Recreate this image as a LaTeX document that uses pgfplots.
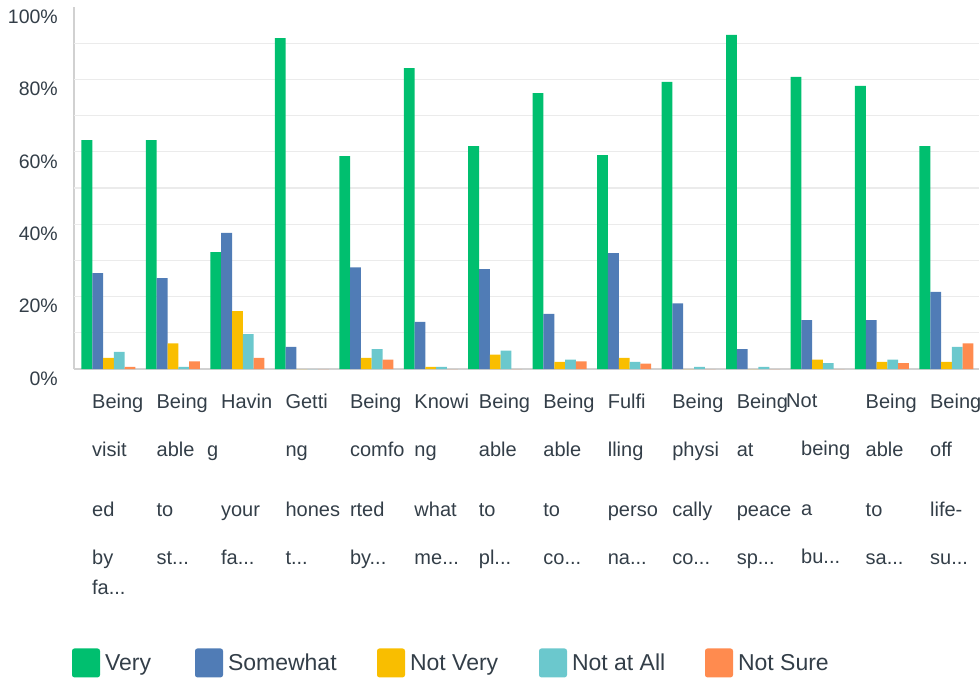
\documentclass[border=0pt]{standalone}
\usepackage{fontspec}
\setmainfont{Liberation Sans}
\usepackage{pgfplots}
\pgfplotsset{compat=1.18}
\definecolor{cVery}{HTML}{00BF6F}
\definecolor{cSome}{HTML}{507CB6}
\definecolor{cNotV}{HTML}{F9BE00}
\definecolor{cNotA}{HTML}{6BC8CD}
\definecolor{cSure}{HTML}{FF8B4F}
\definecolor{txt}{HTML}{333E48}
\newcommand{\dd}{.{}.{}.}
\newcommand{\lbl}[4]{#1\\[18pt]#2\\[29.4pt]#3\\[18pt]#4}
\pgfplotsset{mylegend/.style={legend image code/.code={\path (0pt,0pt) (33pt,0pt); \fill[##1, rounded corners=2.5pt] (0pt,-14.5pt) rectangle (28pt,14.5pt);}}}
\begin{document}
\begin{tikzpicture}
\begin{axis}[
  name=ax,
  scale only axis, width=905pt, height=362pt,
  xmin=-0.535, xmax=13.505, ymin=0, ymax=100,
  ybar=0pt, bar width=10.8pt,
  axis lines*=left,
  axis line style={draw=black!18, line width=1.6pt},
  major tick length=0pt,
  xtick={0,1,2,3,4,5,6,7,8,9,10,11,12,13},
  xticklabels={
    {\lbl{Being}{visit}{ed}{by}\\fa\dd},
    {\lbl{Being}{able}{to}{st\dd}},
    {\lbl{Havin}{\hspace*{-14pt}g}{your}{fa\dd}},
    {\lbl{Getti}{ng}{hones}{t\dd}},
    {\lbl{Being}{comfo}{rted}{by\dd}},
    {\lbl{Knowi}{ng}{what}{me\dd}},
    {\lbl{Being}{able}{to}{pl\dd}},
    {\lbl{Being}{able}{to}{co\dd}},
    {\lbl{Fulfi}{lling}{perso}{na\dd}},
    {\lbl{Being}{physi}{cally}{co\dd}},
    {\lbl{Being}{at}{peace}{sp\dd}},
    {\lbl{\hspace*{-15pt}Not}{being}{a}{bu\dd}},
    {\lbl{Being}{able}{to}{sa\dd}},
    {\lbl{Being}{off}{life-}{su\dd}}},
  xticklabel style={anchor=north west, align=left, inner sep=0pt, xshift=-16.5pt, yshift=-25pt, font=\fontsize{20}{30}\selectfont, text=txt},
  ytick={0,20,40,60,80,100},
  yticklabels={0\%,20\%,40\%,60\%,80\%,100\%},
  yticklabel style={anchor=east, inner sep=0pt, xshift=-16pt, yshift=-9.5pt, font=\fontsize{19.5}{20}\selectfont, text=txt},
  extra y ticks={10,20,30,40,50,60,70,80,90},
  extra y tick labels={},
  extra y tick style={grid=major},
  major grid style={draw=black!8, line width=1.2pt},
  legend style={at={(axis description cs:-0.0022,-0.812)}, anchor=west, draw=none, fill=none, inner sep=0pt, outer sep=0pt, legend columns=-1, font=\fontsize{23}{24}\selectfont, text=txt, nodes={inner sep=0pt}, /tikz/column sep=0pt},
]
\addplot[fill=cVery, draw=none, mylegend] coordinates {(0,63.2) (1,63.2) (2,32.3) (3,91.4) (4,58.8) (5,83.1) (6,61.6) (7,76.2) (8,59.1) (9,79.3) (10,92.3) (11,80.7) (12,78.2) (13,61.6)};
\addlegendentry{\makebox[90pt][l]{Very}}
\addplot[fill=cSome, draw=none, mylegend] coordinates {(0,26.5) (1,25.1) (2,37.6) (3,6.1) (4,28.1) (5,13.0) (6,27.6) (7,15.2) (8,32.0) (9,18.1) (10,5.5) (11,13.5) (12,13.5) (13,21.3)};
\addlegendentry{\makebox[149pt][l]{Somewhat}}
\addplot[fill=cNotV, draw=none, mylegend] coordinates {(0,3.1) (1,7.1) (2,16.0) (3,0) (4,3.1) (5,0.6) (6,4.0) (7,2.0) (8,3.1) (9,0) (10,0) (11,2.6) (12,2.0) (13,2.0)};
\addlegendentry{\makebox[129pt][l]{Not Very}}
\addplot[fill=cNotA, draw=none, mylegend] coordinates {(0,4.7) (1,0.6) (2,9.6) (3,0) (4,5.5) (5,0.6) (6,5.1) (7,2.6) (8,2.0) (9,0.6) (10,0.6) (11,1.6) (12,2.6) (13,6.1)};
\addlegendentry{\makebox[133pt][l]{Not at All}}
\addplot[fill=cSure, draw=none, mylegend] coordinates {(0,0.6) (1,2.1) (2,3.1) (3,0) (4,2.6) (5,0) (6,0) (7,2.1) (8,1.5) (9,0) (10,0) (11,0) (12,1.6) (13,7.1)};
\addlegendentry{Not Sure}
\end{axis}
\pgfresetboundingbox
\path[use as bounding box] ([shift={(-74pt,-310pt)}]ax.south west) rectangle ([shift={(906pt,369pt)}]ax.south west);
\end{tikzpicture}
\end{document}
